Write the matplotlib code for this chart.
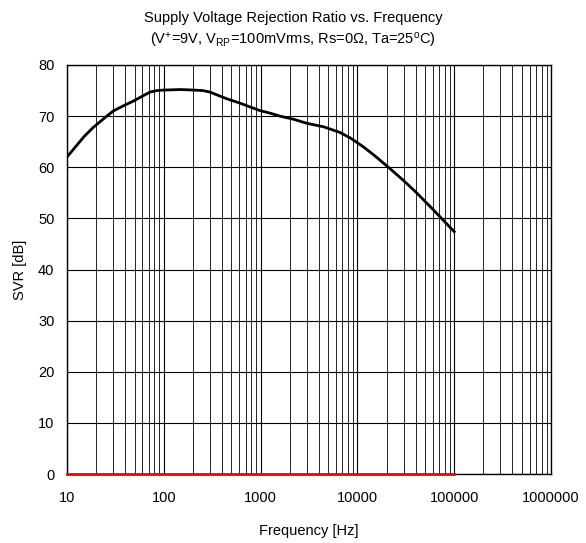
import matplotlib
matplotlib.use("Agg")
import matplotlib.pyplot as plt
from matplotlib.ticker import FixedLocator, LogLocator, NullFormatter

plt.rcParams["font.family"] = ["Liberation Sans", "DejaVu Sans"]
plt.rcParams["mathtext.fontset"] = "custom"
plt.rcParams["mathtext.rm"] = "Liberation Sans"
plt.rcParams["mathtext.it"] = "Liberation Sans"

# SVR curve
freq = [10, 12, 15, 18.7, 25, 30, 40, 48, 60, 72, 85, 100, 150, 200, 254,
        300, 446, 600, 977, 1300, 1580, 2180, 3000, 4500, 6620, 8500,
        11500, 15000, 20900, 30000, 40900, 60000, 100000]
svr = [62.0, 63.8, 66.0, 67.8, 69.8, 71.0, 72.2, 72.9, 73.9, 74.7, 75.0,
       75.1, 75.2, 75.1, 75.0, 74.7, 73.4, 72.6, 71.1, 70.5, 70.0, 69.4,
       68.6, 67.9, 66.8, 65.7, 64.0, 62.3, 60.0, 57.4, 55.0, 51.8, 47.4]

# red reference line at 0 dB
ref_freq = [10, 100000]
ref_val = [0, 0]

x_ticks = [10, 100, 1000, 10000, 100000, 1000000]
x_labels = ["10", "100", "1000", "10000", "100000", "1000000"]
y_ticks = list(range(0, 81, 10))

fig = plt.figure(figsize=(5.86, 5.43), dpi=100)
ax = fig.add_axes([67 / 586, 1 - 474 / 543, 484 / 586, 409 / 543])

ax.set_xscale("log")
ax.set_xlim(10, 1000000)
ax.set_ylim(0, 80)

ax.xaxis.set_major_locator(FixedLocator(x_ticks))
ax.set_xticklabels(x_labels)
ax.xaxis.set_minor_locator(LogLocator(base=10, subs=range(2, 10)))
ax.xaxis.set_minor_formatter(NullFormatter())
ax.set_yticks(y_ticks)

ax.grid(which="major", color="black", linewidth=0.8)
ax.grid(which="minor", axis="x", color="black", linewidth=0.6)
ax.tick_params(which="both", length=0, labelsize=10.5)
ax.tick_params(axis="x", pad=12)
ax.tick_params(axis="y", pad=9)

ax.plot(ref_freq, ref_val, color="red", linewidth=2, zorder=3, clip_on=False)
ax.plot(freq, svr, color="black", linewidth=2, zorder=4)

for s in ax.spines.values():
    s.set_color("black")
    s.set_linewidth(1)

fig.text(0.5, 1 - 18 / 543, "Supply Voltage Rejection Ratio vs. Frequency",
         ha="center", va="center", fontsize=10.5)
fig.text(0.5, 1 - 40 / 543,
         r"(V$^{+}$=9V, V$_{\mathrm{RP}}$=100mVrms, Rs=0Ω, Ta=25$^{\mathrm{o}}$C)",
         ha="center", va="center", fontsize=10.5)
ax.set_xlabel("Frequency [Hz]", fontsize=10.5, labelpad=14)
ax.set_ylabel("SVR [dB]", fontsize=10.5, labelpad=8)

fig.savefig("out.png", dpi=100)
